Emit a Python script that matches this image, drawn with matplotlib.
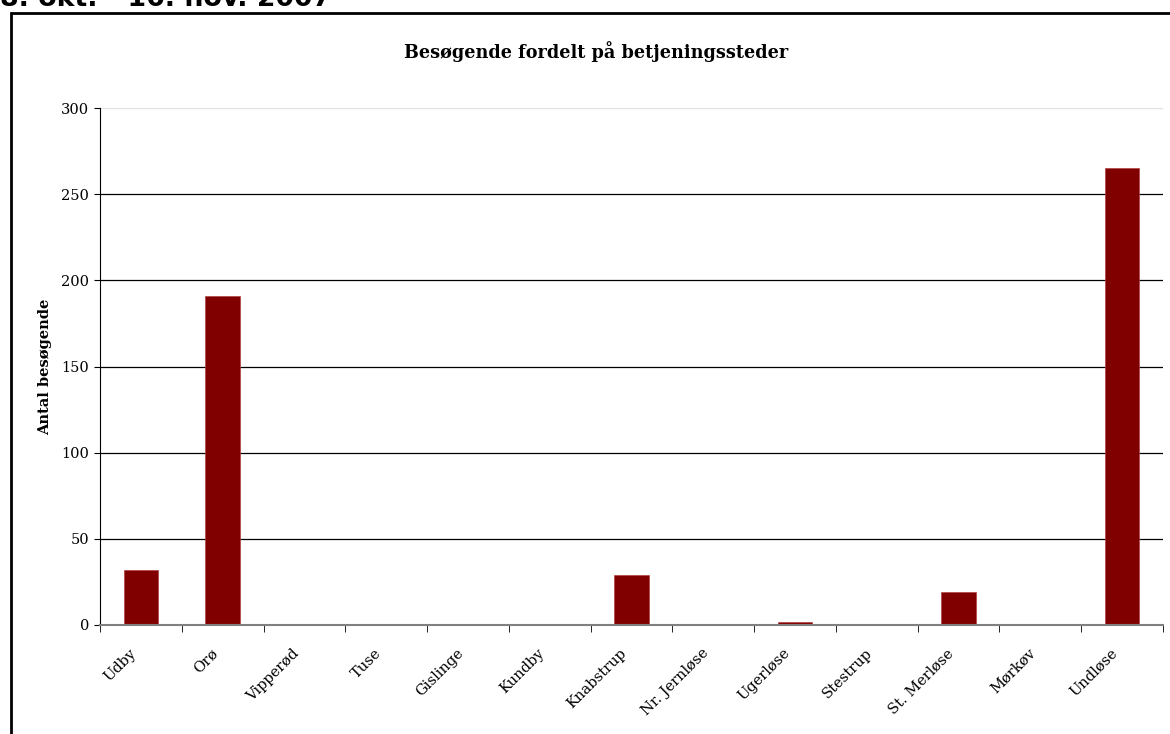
import matplotlib
matplotlib.use("Agg")
import matplotlib.pyplot as plt
from matplotlib.patches import Rectangle
from matplotlib.transforms import ScaledTranslation

steder = ["Udby", "Orø", "Vipperød", "Tuse", "Gislinge", "Kundby", "Knabstrup",
          "Nr. Jernløse", "Ugerløse", "Stestrup", "St. Merløse", "Mørkøv", "Undløse"]
besoegende = [32, 191, 0, 0, 0, 0, 29, 0, 2, 0, 19, 0, 265]
y_ticks = [0, 50, 100, 150, 200, 250, 300]

SERIF = "DejaVu Serif"
W, H = 1170, 734

fig = plt.figure(figsize=(W / 100, H / 100), dpi=100)

# frame around the chart (right/bottom edges fall outside the picture)
fig.patches.append(Rectangle((11 / W, -0.05), 1.2, 1 - 13 / H + 0.05,
                             transform=fig.transFigure, fill=False,
                             edgecolor="black", linewidth=2))
fig.text(0.0, 1 - 6 / H, "8. okt. - 16. nov. 2007", family="DejaVu Sans",
         weight="bold", fontsize=19.3, va="baseline", ha="left")
fig.text(596 / W, 1 - 58 / H, "Besøgende fordelt på betjeningssteder",
         family=SERIF, weight="bold", fontsize=12.7, ha="center", va="baseline")

ax = fig.add_axes([100 / W, 1 - 625 / H, 1063 / W, 517 / H])
x = list(range(len(steder)))
ax.bar(x, besoegende, width=0.42, color="#800000", edgecolor="#b04040",
       linewidth=0.5, zorder=3)

ax.set_xlim(-0.5, len(steder) - 0.5)
ax.set_ylim(0, 300)
ax.set_yticks(y_ticks)
ax.set_yticklabels([str(v) for v in y_ticks], family=SERIF, fontsize=10.5)

# category labels, rotated and set a little left of / below the category centre
ax.set_xticks([])
ax.set_xticks([i - 0.5 for i in range(len(steder) + 1)], minor=True)
shift = ScaledTranslation(-12 / 100, -21 / 100, fig.dpi_scale_trans)
for xi, name in zip(x, steder):
    ax.text(xi, 0, name, transform=ax.get_xaxis_transform() + shift,
            family=SERIF, fontsize=10.5, rotation=45, ha="right", va="top",
            rotation_mode="anchor")
ax.tick_params(axis="x", which="minor", length=5, color="black", direction="out")
ax.tick_params(axis="y", length=4, color="black", pad=4)

ax.grid(axis="y", color="black", linewidth=0.9, zorder=1)
ax.get_ygridlines()[-1].set_color("#e0e0e0")
ax.get_ygridlines()[0].set_visible(False)

for s in ("top", "right"):
    ax.spines[s].set_visible(False)
ax.spines["left"].set_color("black")
ax.spines["bottom"].set_color("#808080")
ax.spines["bottom"].set_linewidth(1.5)
ax.spines["bottom"].set_zorder(4)

ax.set_ylabel("Antal besøgende", family=SERIF, weight="bold", fontsize=10.5,
              labelpad=6)

fig.savefig("out.png", dpi=100)
